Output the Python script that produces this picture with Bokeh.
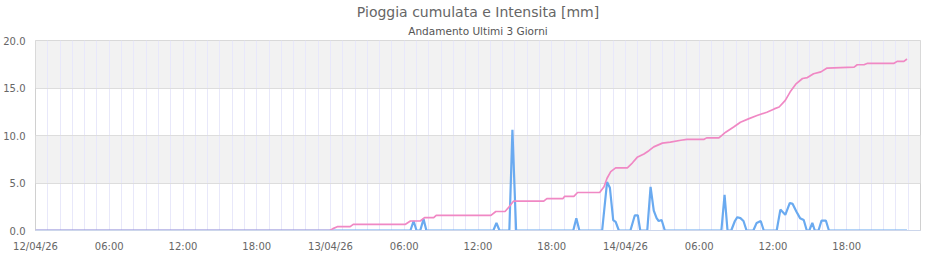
from bokeh.plotting import figure
from bokeh.models import FixedTicker, BoxAnnotation, Title, Range1d, NumeralTickFormatter
from bokeh.embed import file_html
from bokeh.resources import INLINE

# time axis: hours since 12/04/26 00:00
x_tick_hours = [0, 6, 12, 18, 24, 30, 36, 42, 48, 54, 60, 66]
x_tick_labels = ["12/04/26", "06:00", "12:00", "18:00", "13/04/26", "06:00",
                 "12:00", "18:00", "14/04/26", "06:00", "12:00", "18:00"]
y_ticks = [0, 5, 10, 15, 20]

# Pioggia cumulata [mm]
cum_hours = [0, 23.95, 24.2, 24.55, 25.6, 25.85, 30.1, 30.5, 31.3, 31.65, 32.4, 32.6,
             37.05, 37.45, 38.2, 38.5, 38.9, 41.35, 41.6, 42.9, 43.05, 43.8, 44.1,
             45.9, 46.25, 46.5, 46.8, 47.2, 48.15, 48.55, 48.95, 49.5, 49.9, 50.3,
             51.0, 51.65, 52.5, 53.0, 54.4, 54.6, 55.6, 56.15, 56.8, 57.35, 58.0,
             58.7, 59.5, 60.1, 60.5, 61.0, 61.4, 61.85, 62.4, 62.8, 63.3, 63.9,
             64.4, 66.6, 66.85, 67.4, 67.7, 69.85, 70.1, 70.65, 70.9]
cum_mm = [0, 0, 0.2, 0.4, 0.4, 0.65, 0.65, 1.0, 1.0, 1.35, 1.35, 1.6,
          1.6, 2.0, 2.0, 2.45, 3.1, 3.1, 3.35, 3.35, 3.6, 3.6, 4.0,
          4.0, 4.6, 5.5, 6.2, 6.6, 6.6, 7.1, 7.7, 8.05, 8.4, 8.8,
          9.2, 9.3, 9.5, 9.6, 9.6, 9.75, 9.75, 10.35, 10.9, 11.4, 11.75,
          12.1, 12.45, 12.8, 13.0, 13.7, 14.6, 15.4, 16.0, 16.1, 16.5, 16.7,
          17.1, 17.2, 17.45, 17.45, 17.6, 17.6, 17.8, 17.8, 18.05]

# Intensita [mm]
int_hours = [0, 30.5, 30.76, 31.0, 31.3, 31.57, 31.8, 37.25, 37.5, 37.75,
             38.55, 38.8, 39.1, 43.75, 44.0, 44.25, 46.1, 46.5, 46.73, 47.0,
             47.2, 47.46, 48.4, 48.76, 49.0, 49.2, 49.77, 50.04, 50.3, 50.53,
             50.7, 50.94, 51.2, 55.8, 56.06, 56.3, 56.6, 56.9, 57.1, 57.35,
             57.6, 57.85, 58.4, 58.67, 59.0, 59.25, 60.3, 60.6, 61.0, 61.37,
             61.6, 61.9, 62.2, 62.5, 62.75, 62.95, 63.2, 63.4, 63.7, 63.95,
             64.3, 64.55, 70.9]
int_mm = [0, 0, 1.0, 0, 0, 1.2, 0, 0, 0.8, 0,
          0, 10.6, 0, 0, 1.3, 0, 0, 5.1, 4.5, 1.1,
          0.9, 0, 0, 1.6, 1.6, 0, 0, 4.6, 2.1, 1.3,
          1.0, 1.1, 0, 0, 3.75, 0, 0, 1.0, 1.4, 1.3,
          1.0, 0, 0, 0.8, 1.0, 0, 0, 2.2, 1.65, 2.9,
          2.8, 2.0, 1.3, 1.1, 0, 0, 0.8, 0, 0, 1.05,
          1.05, 0, 0]

FONT = "DejaVu Sans"

p = figure(width=940, height=260, output_backend="svg", toolbar_location=None,
           title=None, x_range=Range1d(0, 72), y_range=Range1d(0, 20),
           min_border_left=35, min_border_right=20, min_border_top=40,
           min_border_bottom=30, background_fill_color="white",
           border_fill_color="white")

p.add_layout(Title(text="Andamento Ultimi 3 Giorni", align="center",
                   text_font_size="10.5px", text_font_style="normal",
                   text_color="#555555", text_font=FONT, standoff=7, offset=0), "above")
p.add_layout(Title(text="Pioggia cumulata e Intensita [mm]", align="center",
                   text_font_size="14px", text_font_style="normal",
                   text_color="#666666", text_font=FONT, standoff=0, offset=0), "above")

for lo, hi in [(5, 10), (15, 20)]:
    p.add_layout(BoxAnnotation(bottom=lo, top=hi, fill_color="#f2f2f2", fill_alpha=1,
                               line_color=None, level="image"))

p.line(int_hours, int_mm, color="#6aaaf0", line_width=2.2)
p.line(cum_hours, cum_mm, color="#f088c4", line_width=1.7)

p.xaxis.ticker = FixedTicker(ticks=x_tick_hours)
p.xaxis.major_label_overrides = {h: l for h, l in zip(x_tick_hours, x_tick_labels)}
p.xaxis.axis_line_color = "#ccd6eb"
p.yaxis.axis_line_color = None
p.yaxis.ticker = FixedTicker(ticks=y_ticks)
p.yaxis.formatter = NumeralTickFormatter(format="0.0")
for ax in (p.xaxis, p.yaxis):
    ax.major_tick_line_color = None
    ax.minor_tick_line_color = None
    ax.major_label_text_font = FONT
    ax.major_label_text_font_size = "10px"
    ax.major_label_text_color = "#666666"
p.xaxis.major_label_standoff = 4
p.yaxis.major_label_standoff = 4

p.xgrid.ticker = FixedTicker(ticks=list(range(1, 72)))
p.xgrid.grid_line_color = "#e8e8fa"
p.ygrid.ticker = FixedTicker(ticks=y_ticks)
p.ygrid.grid_line_color = "#dddddd"
p.outline_line_color = "#d0d0d0"

open("out.html", "w").write(file_html(p, INLINE))
